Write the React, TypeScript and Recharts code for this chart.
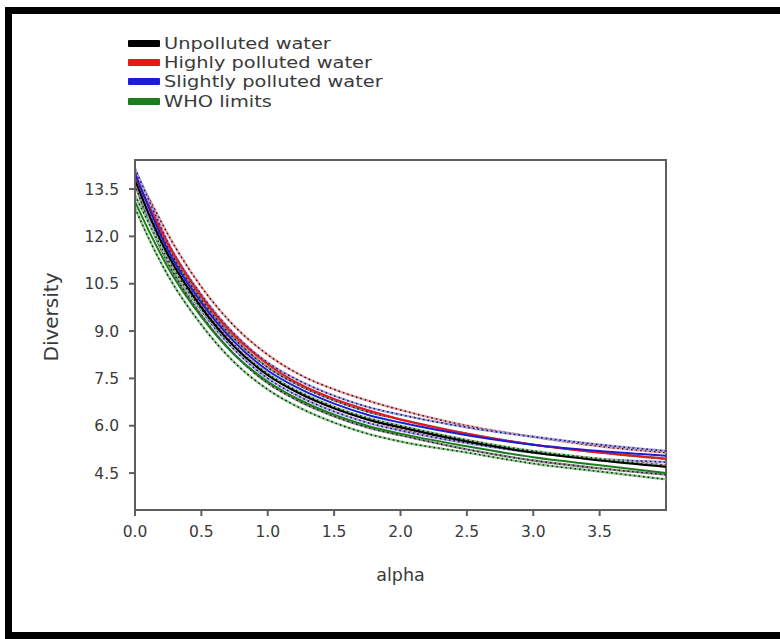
import React from 'react';
import { LineChart, Line, XAxis, YAxis, Legend, ReferenceArea } from 'recharts';

const alpha = [0, 0.125, 0.25, 0.5, 0.75, 1, 1.25, 1.5, 1.75, 2, 2.5, 3, 3.5, 4];

const unpollutedMid = [13.8, 12.5, 11.4, 9.75, 8.5, 7.6, 7.0, 6.55, 6.2, 5.95, 5.5, 5.15, 4.9, 4.7];
const unpollutedUp = [13.95, 12.75, 11.65, 10.0, 8.75, 7.85, 7.25, 6.8, 6.45, 6.2, 5.75, 5.4, 5.15, 4.95];
const unpollutedLo = [13.65, 12.25, 11.15, 9.5, 8.25, 7.35, 6.75, 6.3, 5.95, 5.7, 5.25, 4.9, 4.65, 4.45];

const highlyMid = [13.9, 12.8, 11.75, 10.1, 8.85, 7.95, 7.3, 6.85, 6.5, 6.2, 5.75, 5.4, 5.15, 4.95];
const highlyUp = [14.05, 13.05, 12.05, 10.4, 9.15, 8.25, 7.6, 7.15, 6.8, 6.5, 6.0, 5.65, 5.35, 5.15];
const highlyLo = [13.75, 12.55, 11.45, 9.8, 8.55, 7.65, 7.0, 6.55, 6.2, 5.9, 5.5, 5.15, 4.95, 4.75];

const slightlyMid = [14.0, 12.7, 11.55, 9.9, 8.65, 7.75, 7.15, 6.7, 6.35, 6.1, 5.7, 5.4, 5.2, 5.05];
const slightlyUp = [14.15, 12.95, 11.8, 10.15, 8.9, 8.0, 7.4, 6.95, 6.6, 6.35, 5.95, 5.65, 5.4, 5.2];
const slightlyLo = [13.85, 12.45, 11.3, 9.65, 8.4, 7.5, 6.9, 6.45, 6.1, 5.85, 5.45, 5.15, 4.95, 4.85];

const whoMid = [13.1, 12.0, 11.0, 9.45, 8.25, 7.4, 6.8, 6.35, 6.0, 5.75, 5.35, 5.0, 4.75, 4.5];
const whoUp = [13.3, 12.25, 11.25, 9.7, 8.5, 7.65, 7.05, 6.6, 6.25, 6.0, 5.55, 5.2, 4.95, 4.7];
const whoLo = [12.9, 11.75, 10.75, 9.2, 8.0, 7.15, 6.55, 6.1, 5.75, 5.5, 5.15, 4.8, 4.55, 4.3];

const xTicks = [0, 0.5, 1, 1.5, 2, 2.5, 3, 3.5];
const yTicks = [4.5, 6, 7.5, 9, 10.5, 12, 13.5];
const xDomain: [number, number] = [0, 4];
const yDomain: [number, number] = [3.33, 14.42];

const series = [
  { key: 'unpolluted', name: 'Unpolluted water', color: '#000000', light: '#8a8a8a', mid: unpollutedMid, up: unpollutedUp, lo: unpollutedLo },
  { key: 'highly', name: 'Highly polluted water', color: '#e3191c', light: '#f4a0a2', mid: highlyMid, up: highlyUp, lo: highlyLo },
  { key: 'slightly', name: 'Slightly polluted water', color: '#1d1dd6', light: '#a0a0f4', mid: slightlyMid, up: slightlyUp, lo: slightlyLo },
  { key: 'who', name: 'WHO limits', color: '#1b7d1b', light: '#8ccc8c', mid: whoMid, up: whoUp, lo: whoLo },
];

const data = alpha.map((a, i) => {
  const row: Record<string, number> = { alpha: a };
  series.forEach((s) => {
    row[s.key] = s.mid[i];
    row[s.key + 'Up'] = s.up[i];
    row[s.key + 'Lo'] = s.lo[i];
  });
  return row;
});

const FONT = 'DejaVu Sans, sans-serif';
const AXIS = '#5e5e5e';
const TXT = '#3a3a3a';

const LegendContent = () => (
  <div style={{ fontFamily: FONT, fontSize: 16.3, color: TXT }}>
    {series.map((s) => (
      <div key={s.key} style={{ display: 'flex', alignItems: 'center', height: 19.2, lineHeight: '19px', whiteSpace: 'nowrap' }}>
        <span style={{ display: 'inline-block', width: 32, height: 7, background: s.color, marginRight: 4, borderRadius: 1 }} />
        <span style={{ display: 'inline-block', transform: 'scaleX(1.19)', transformOrigin: 'left center' }}>{s.name}</span>
      </div>
    ))}
  </div>
);

const YLabel = (props: any) => {
  const vb = props.viewBox || { x: 35, y: 160, width: 100, height: 350 };
  const x = 51;
  const y = vb.y + vb.height / 2 - 18;
  return (
    <text x={x} y={y} transform={`rotate(-90 ${x} ${y})`} textAnchor="middle" dominantBaseline="central" fill={TXT} fontSize={20} fontFamily={FONT}>
      Diversity
    </text>
  );
};

export default function App() {
  return (
    <div style={{ position: 'absolute', left: 0, top: 0, width: 780, height: 639, overflow: 'hidden', background: '#fff' }}>
      <div style={{ position: 'absolute', left: 5, top: 7, width: 820, height: 632, border: '7px solid #000', boxSizing: 'border-box' }} />
      <div style={{ position: 'absolute', left: 0, top: 0 }}>
        <LineChart width={780} height={639} data={data} margin={{ top: 160, right: 114, bottom: 56, left: 35 }}>
          <XAxis
            dataKey="alpha"
            type="number"
            domain={xDomain}
            ticks={xTicks}
            tickFormatter={(v: number) => v.toFixed(1)}
            height={73}
            axisLine={{ stroke: AXIS, strokeWidth: 2 }}
            tickLine={{ stroke: AXIS, strokeWidth: 2 }}
            tickSize={6}
            tickMargin={10}
            tick={{ fill: TXT, fontSize: 15.5, fontFamily: FONT }}
            label={{ value: 'alpha', position: 'insideBottom', offset: 2, fill: TXT, fontSize: 17.5, fontFamily: FONT }}
          />
          <YAxis
            type="number"
            domain={yDomain}
            ticks={yTicks}
            tickFormatter={(v: number) => v.toFixed(1)}
            width={100}
            allowDataOverflow
            axisLine={{ stroke: AXIS, strokeWidth: 2 }}
            tickLine={{ stroke: AXIS, strokeWidth: 2 }}
            tickSize={6}
            tickMargin={10}
            tick={{ fill: TXT, fontSize: 15.5, fontFamily: FONT }}
            label={<YLabel />}
          />
          <ReferenceArea x1={xDomain[0]} x2={xDomain[1]} y1={yDomain[0]} y2={yDomain[1]} fill="none" fillOpacity={0} stroke={AXIS} strokeWidth={2} ifOverflow="visible" />
          <Legend
            layout="horizontal"
            verticalAlign="middle"
            align="center"
            wrapperStyle={{ top: 34, left: 128, width: 'auto', height: 'auto' }}
            content={<LegendContent />}
          />
          {series.map((s) => [
            <Line key={s.key + 'UpL'} dataKey={s.key + 'Up'} type="monotone" stroke={s.light} strokeWidth={2.4} dot={false} isAnimationActive={false} legendType="none" />,
            <Line key={s.key + 'UpD'} dataKey={s.key + 'Up'} type="monotone" stroke="#1a1a1a" strokeWidth={1.5} strokeDasharray="1.6 3" dot={false} isAnimationActive={false} legendType="none" />,
            <Line key={s.key + 'LoL'} dataKey={s.key + 'Lo'} type="monotone" stroke={s.light} strokeWidth={2.4} dot={false} isAnimationActive={false} legendType="none" />,
            <Line key={s.key + 'LoD'} dataKey={s.key + 'Lo'} type="monotone" stroke="#1a1a1a" strokeWidth={1.5} strokeDasharray="1.6 3" dot={false} isAnimationActive={false} legendType="none" />,
          ])}
          {series.map((s) => (
            <Line key={s.key} dataKey={s.key} name={s.name} type="monotone" stroke={s.color} strokeWidth={2} dot={false} isAnimationActive={false} />
          ))}
        </LineChart>
      </div>
    </div>
  );
}
